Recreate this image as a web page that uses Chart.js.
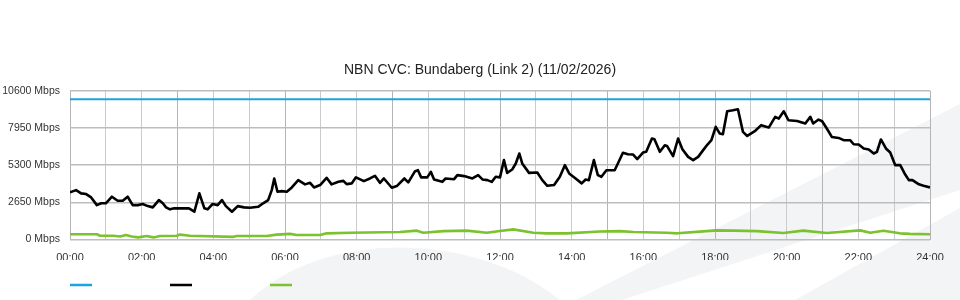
<!DOCTYPE html>
<html>
<head>
<meta charset="utf-8">
<script src="https://cdn.jsdelivr.net/npm/chart.js@4.4.1/dist/chart.umd.min.js"></script>
<style>
  html, body { margin: 0; padding: 0; background: #fff; }
  #wrap { position: relative; width: 960px; height: 300px; }
</style>
</head>
<body>
<div id="wrap"><canvas id="cvc"></canvas></div>
<script>
// link capacity (flat line)
const capacityMbps = 10000

// traffic, hours since midnight -> Mbps
const trafficHours = [0, 0.17, 0.31, 0.45, 0.59, 0.75, 0.87, 1.00, 1.17, 1.33, 1.47, 1.61, 1.75, 1.89,
  2.03, 2.17, 2.31, 2.48, 2.59, 2.68, 2.79, 2.91, 3.04, 3.32, 3.47, 3.61, 3.75, 3.84, 3.98,
  4.12, 4.24, 4.35, 4.52, 4.68, 4.86, 5.02, 5.25, 5.39, 5.53, 5.63, 5.70, 5.79, 5.91,
  6.05, 6.19, 6.37, 6.56, 6.70, 6.81, 6.98, 7.16, 7.30, 7.49, 7.63, 7.72, 7.86, 7.98,
  8.20, 8.37, 8.51, 8.65, 8.76, 8.98, 9.12, 9.33, 9.44, 9.63, 9.71, 9.80, 9.97,
  10.07, 10.16, 10.39, 10.48, 10.72, 10.81, 11.00, 11.23, 11.39, 11.51, 11.65, 11.77, 11.88,
  12.00, 12.11, 12.20, 12.34, 12.44, 12.54, 12.62, 12.81, 13.04, 13.18, 13.32, 13.51, 13.67,
  13.81, 13.93, 14.11, 14.28, 14.39, 14.48, 14.62, 14.73, 14.83, 14.97, 15.20, 15.29, 15.43,
  15.57, 15.71, 15.83, 15.99, 16.08, 16.24, 16.31, 16.46, 16.60, 16.66, 16.83, 16.97,
  17.09, 17.25, 17.39, 17.53, 17.67, 17.79, 17.90, 18.02, 18.13, 18.22, 18.34, 18.50,
  18.64, 18.78, 18.90, 19.11, 19.29, 19.43, 19.50, 19.68, 19.78, 19.92, 20.05, 20.29,
  20.52, 20.66, 20.74, 20.89, 20.99, 21.12, 21.26, 21.45, 21.59, 21.77, 21.87, 22.01,
  22.15, 22.29, 22.43, 22.52, 22.63, 22.77, 22.89, 23.03, 23.17, 23.29, 23.41, 23.51,
  23.69, 23.82, 24.00]
const trafficMbps = [3360, 3520, 3290, 3240, 3000, 2450, 2580, 2580, 3050, 2760, 2760, 3050, 2450, 2450,
  2530, 2380, 2290, 2810, 2580, 2290, 2150, 2220, 2220, 2220, 1980, 3290, 2220, 2150, 2530,
  2450, 2810, 2380, 1980, 2380, 2290, 2260, 2330, 2580, 2810, 3520, 4350, 3400, 3450,
  3400, 3710, 4230, 3930, 4040, 3710, 3880, 4400, 3930, 4110, 4180, 3950, 4000, 4430,
  4160, 4350, 4540, 4040, 4350, 3690, 3810, 4350, 4070, 4870, 4940, 4430, 4430,
  4820, 4280, 4110, 4350, 4300, 4590, 4520, 4350, 4590, 4280, 4230, 4110, 4470,
  4430, 5660, 4750, 4990, 5420, 6130, 5420, 4750, 4780, 4230, 3830, 3880, 4470,
  5300, 4710, 4350, 4000, 4280, 4230, 5660, 4590, 4470, 4940, 4940, 5420, 6180,
  6080, 6060, 5730, 6200, 6250, 7200, 7150, 6250, 6720, 6670, 5940, 7200,
  6440, 5890, 5660, 5890, 6370, 6770, 7080, 8030, 7560, 7500, 9140, 9210,
  9280, 7670, 7380, 7720, 8150, 8030, 7980, 8740, 8620, 9140, 8500, 8450,
  8270, 8740, 8270, 8550, 8430, 7910, 7310, 7240, 7080, 7080, 6790, 6770,
  6490, 6420, 6130, 6250, 7130, 6490, 6200, 5300, 5300, 4710, 4230, 4230,
  3930, 3830, 3710]

// second series near the floor
const otherHours = [0, 0.75, 0.84, 1.2, 1.4, 1.56, 1.72, 1.9, 2.14, 2.33, 2.51, 2.98, 3.07, 3.35,
  4.56, 4.65, 5.49, 5.77, 6.14, 6.33, 6.98, 7.16, 7.81, 8.28, 9.21, 9.68, 9.86, 10.42,
  11.07, 11.63, 12.0, 12.37, 12.93, 13.30, 13.86, 14.79, 15.35, 15.72, 16.65, 16.95,
  17.67, 18.05, 18.52, 19.17, 19.91, 20.46, 21.12, 22.05, 22.33, 22.70, 23.16, 23.44, 24.0]
const otherMbps = [370, 370, 270, 270, 210, 320, 210, 150, 250, 150, 250, 270, 350, 270,
  190, 250, 250, 350, 400, 320, 320, 440, 480, 500, 530, 630, 480, 600,
  630, 480, 600, 720, 480, 440, 440, 570, 600, 530, 480, 440,
  580, 650, 630, 600, 460, 630, 460, 650, 480, 630, 440, 400, 370]

const yTicks = [0, 2650, 5300, 7950, 10600]
const xLabelEvery = 2
const titleText = 'NBN CVC: Bundaberg (Link 2) (11/02/2026)'

const pairs = (xs, ys) => xs.map((x, i) => ({x: x, y: ys[i]}))
const hhmm = (h) => String(h).padStart(2, '0') + ':00'

// faint backdrop shapes behind everything
const backdrop = {
    id: 'backdrop',
    beforeDraw(chart) {
        const c = chart.ctx
        c.save()
        c.fillStyle = '#f3f4f6'
        c.beginPath()
        c.moveTo(250, 300)
        c.bezierCurveTo(320, 232, 470, 228, 560, 300)
        c.closePath()
        c.fill()
        c.beginPath()
        c.moveTo(576, 300)
        c.lineTo(960, 104)
        c.lineTo(960, 300)
        c.closePath()
        c.fill()
        // lighter stripe cutting through the right-hand wedge
        c.fillStyle = '#ffffff'
        c.beginPath()
        c.moveTo(622, 300)
        c.lineTo(960, 190)
        c.lineTo(960, 208)
        c.lineTo(795, 300)
        c.closePath()
        c.fill()
        c.restore()
    }
}

// short coloured dashes under the chart, no text
const keyLines = {
    id: 'keyLines',
    afterDraw(chart) {
        const c = chart.ctx
        c.save()
        chart.data.datasets.forEach((ds, i) => {
            const x = 70 + i * 100
            c.strokeStyle = ds.borderColor
            c.lineWidth = 2.5
            c.beginPath()
            c.moveTo(x, 285)
            c.lineTo(x + 22, 285)
            c.stroke()
        })
        c.restore()
    }
}

Chart.defaults.font.family = '"Liberation Sans", Arial, sans-serif'
Chart.defaults.color = '#333'

new Chart(document.getElementById('cvc'), {
    type: 'line',
    data: {
        datasets: [
            {
                data: [{x: 0, y: capacityMbps}, {x: 24, y: capacityMbps}],
                borderColor: '#1fa3e0',
                borderWidth: 2
            },
            {
                data: pairs(trafficHours, trafficMbps),
                borderColor: '#000000',
                borderWidth: 2.6
            },
            {
                data: pairs(otherHours, otherMbps),
                borderColor: '#7cc12e',
                borderWidth: 2.6
            }
        ]
    },
    options: {
        responsive: true,
        maintainAspectRatio: false,
        animation: false,
        elements: {
            point: { radius: 0 },
            line: { tension: 0, borderJoinStyle: 'round' }
        },
        layout: { padding: { left: 0, right: 0, top: 0, bottom: 40 } },
        scales: {
            x: {
                type: 'linear',
                min: 0,
                max: 24,
                afterBuildTicks: (s) => { s.ticks = Array.from({length: 25}, (_, i) => ({value: i})) },
                afterFit: (s) => { s.height = 20.5 },
                border: { display: false },
                grid: {
                    drawTicks: false,
                    lineWidth: 1,
                    color: (ctx) => (ctx.tick && ctx.tick.value % 3 === 0) ? '#b4b4b4' : '#cbcbcb'
                },
                ticks: {
                    autoSkip: false,
                    maxRotation: 0,
                    padding: 12,
                    font: { size: 11 },
                    callback: (v) => v % xLabelEvery === 0 ? hhmm(v) : ''
                }
            },
            y: {
                min: 0,
                max: 10600,
                afterBuildTicks: (s) => { s.ticks = yTicks.map(v => ({value: v})) },
                afterFit: (s) => { s.width = 70 },
                border: { display: false },
                grid: { drawTicks: false, lineWidth: 1.5, color: '#bdbdbd' },
                ticks: {
                    padding: 10,
                    font: { size: 10.5 },
                    callback: (v) => v + ' Mbps'
                }
            },
            // empty gutter on the right so the plot ends at the same place as the title is centred
            gutter: {
                type: 'linear',
                position: 'right',
                display: true,
                afterFit: (s) => { s.width = 30 },
                border: { display: false },
                grid: { display: false },
                ticks: { display: false }
            }
        },
        plugins: {
            legend: { display: false },
            tooltip: { enabled: false },
            title: {
                display: true,
                text: titleText,
                color: '#222',
                font: { size: 14, weight: 'normal' },
                padding: { top: 62, bottom: 12 }
            }
        }
    },
    plugins: [backdrop, keyLines]
})
</script>
</body>
</html>
